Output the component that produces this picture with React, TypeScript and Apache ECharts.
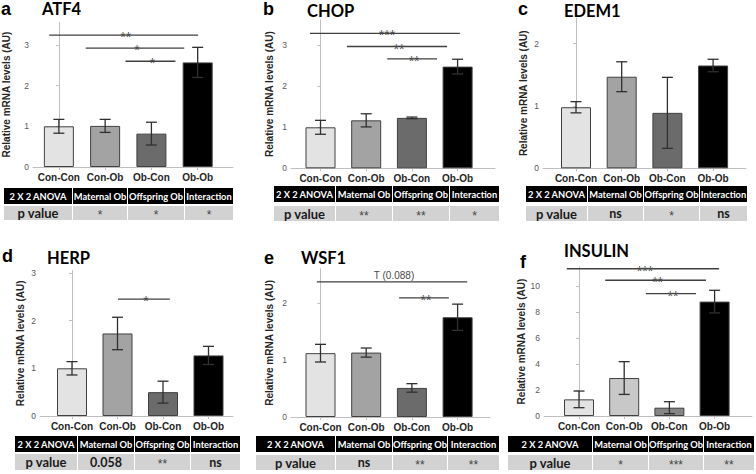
import React, { useEffect, useRef } from 'react';
import * as echarts from 'echarts';

// ---------- data ----------
const categories = ['Con-Con', 'Con-Ob', 'Ob-Con', 'Ob-Ob'];
const anovaHeaders = ['2 X 2 ANOVA', 'Maternal Ob', 'Offspring Ob', 'Interaction'];
const pRowLabel = 'p value';

const atf4Mean = [1.0, 1.01, 0.82, 2.57];
const atf4Err = [0.17, 0.16, 0.28, 0.37];
const atf4P = ['*', '*', '*'];
const atf4Sig: [number, number, number, string][] = [[-0.21, 3.01, 3.24, '**'], [0.58, 2.71, 2.92, '*'], [1.44, 2.52, 2.6, '*']];

const chopMean = [1.0, 1.17, 1.23, 2.48];
const chopErr = [0.17, 0.16, 0.02, 0.18];
const chopP = ['**', '**', '*'];
const chopSig: [number, number, number, string][] = [[-0.23, 3.05, 3.29, '***'], [0.58, 2.77, 2.97, '**'], [1.46, 2.55, 2.67, '**']];

const edem1Mean = [0.98, 1.47, 0.89, 1.65];
const edem1Err = [0.09, 0.24, 0.57, 0.1];
const edem1P = ['ns', '*', 'ns'];
const edem1Sig: [number, number, number, string][] = [];

const herpMean = [1.0, 1.73, 0.5, 1.27];
const herpErr = [0.14, 0.34, 0.23, 0.19];
const herpP = ['0.058', '**', 'ns'];
const herpSig: [number, number, number, string][] = [[1.01, 2.15, 2.45, '*']];

const wsf1Mean = [1.12, 1.13, 0.51, 1.75];
const wsf1Err = [0.155, 0.08, 0.075, 0.23];
const wsf1P = ['ns', '**', '**'];
const wsf1Sig: [number, number, number, string][] = [[-0.08, 3.21, 2.37, 'T (0.088)'], [1.72, 2.81, 2.09, '**']];

const insulinMean = [1.28, 2.92, 0.64, 8.8];
const insulinErr = [0.64, 1.26, 0.46, 0.87];
const insulinP = ['*', '***', '**'];
const insulinSig: [number, number, number, string][] = [[-0.27, 3.1, 11.33, '***'], [0.58, 2.81, 10.44, '**'], [1.48, 2.59, 9.41, '**']];

const ticks3 = [0, 1, 2, 3];
const ticks2 = [0, 1, 2];
const ticksIns = [0, 2, 4, 6, 8, 10];

// ---------- styles / layout ----------
const greyBars = ['#e3e3e3', '#a3a3a3', '#6b6b6b', '#000000'];
const lightBars = ['#e3e3e3', '#c8c8c8', '#858585', '#000000'];
const AX = '#bfbfbf';
const ARIAL = 'Liberation Sans';
const CAL = 'Lato';

type Panel = {
  letter: string; title: string; mean: number[]; err: number[]; p: string[];
  sig: [number, number, number, string][]; ticks: number[]; colors: string[];
  yAxisX: number; axisEndX: number; xAxisY: number; unit: number; yMax: number;
  c0: number; sp: number; nameGap: number;
  letterPos: [number, number]; titlePos: [number, number];
  rows: [number, number][]; cols: [number, number][];
};

const panels: Panel[] = [
  {
    letter: 'a', title: 'ATF4', mean: atf4Mean, err: atf4Err, p: atf4P, sig: atf4Sig, ticks: ticks3, colors: greyBars,
    yAxisX: 32, axisEndX: 233, xAxisY: 167, unit: 40.7, yMax: 3.56, c0: 58, sp: 46.5, nameGap: 22,
    letterPos: [1, 9], titlePos: [42, 9],
    rows: [[188, 16], [206, 14]], cols: [[4, 72], [73, 127], [128, 184], [185, 233]],
  },
  {
    letter: 'b', title: 'CHOP', mean: chopMean, err: chopErr, p: chopP, sig: chopSig, ticks: ticks3, colors: greyBars,
    yAxisX: 291, axisEndX: 495, xAxisY: 168.3, unit: 41, yMax: 3.62, c0: 320.5, sp: 45.7, nameGap: 17,
    letterPos: [263, 9], titlePos: [307, 11],
    rows: [[186, 16], [206, 15]], cols: [[274, 335], [336, 392], [393, 449], [450, 499]],
  },
  {
    letter: 'c', title: 'EDEM1', mean: edem1Mean, err: edem1Err, p: edem1P, sig: edem1Sig, ticks: ticks2, colors: greyBars,
    yAxisX: 543, axisEndX: 746, xAxisY: 168.3, unit: 62.3, yMax: 2.41, c0: 576, sp: 45.7, nameGap: 15,
    letterPos: [518, 9], titlePos: [564, 11],
    rows: [[186, 16], [206, 15]], cols: [[526, 587], [588, 643], [644, 699], [700, 747]],
  },
  {
    letter: 'd', title: 'HERP', mean: herpMean, err: herpErr, p: herpP, sig: herpSig, ticks: ticks3, colors: greyBars,
    yAxisX: 40, axisEndX: 233, xAxisY: 416, unit: 47.7, yMax: 3.05, c0: 72, sp: 45.5, nameGap: 15,
    letterPos: [2, 256], titlePos: [47, 258],
    rows: [[436, 16], [454, 16]], cols: [[15, 77], [78, 134], [135, 190], [191, 240]],
  },
  {
    letter: 'e', title: 'WSF1', mean: wsf1Mean, err: wsf1Err, p: wsf1P, sig: wsf1Sig, ticks: ticks2, colors: greyBars,
    yAxisX: 291, axisEndX: 490, xAxisY: 417, unit: 57, yMax: 2.6, c0: 320.5, sp: 45.7, nameGap: 17,
    letterPos: [264, 258], titlePos: [301, 258],
    rows: [[436, 16], [455, 15]], cols: [[256, 335], [336, 392], [393, 447], [448, 499]],
  },
  {
    letter: 'f', title: 'INSULIN', mean: insulinMean, err: insulinErr, p: insulinP, sig: insulinSig, ticks: ticksIns, colors: lightBars,
    yAxisX: 544, axisEndX: 752, xAxisY: 416, unit: 13, yMax: 11.46, c0: 579, sp: 45.2, nameGap: 16,
    letterPos: [520, 262], titlePos: [564, 251],
    rows: [[436, 16], [455, 15]], cols: [[508, 592], [593, 648], [649, 703], [704, 754]],
  },
];

function buildOption() {
  const grid: any[] = [];
  const xAxis: any[] = [];
  const yAxis: any[] = [];
  const series: any[] = [];
  const graphic: any[] = [];

  panels.forEach((pn, i) => {
    const h = pn.yMax * pn.unit;
    grid.push({ left: pn.yAxisX, top: pn.xAxisY - h, width: pn.axisEndX - pn.yAxisX, height: h, containLabel: false });
    const xMin = (pn.yAxisX - pn.c0) / pn.sp;
    const xMax = (pn.axisEndX - pn.c0) / pn.sp;
    const catIdx = categories.map((_, k) => k);
    xAxis.push({
      gridIndex: i, type: 'value', min: xMin, max: xMax,
      axisLine: { show: true, lineStyle: { color: AX, width: 1 } },
      axisTick: { show: true, customValues: catIdx, length: 3, lineStyle: { color: AX } },
      axisLabel: {
        customValues: catIdx, formatter: (v: number) => categories[Math.round(v)] ?? '',
        fontFamily: ARIAL, fontWeight: 'bold', fontSize: 10, color: '#262626', margin: 5,
      },
      splitLine: { show: false },
    });
    yAxis.push({
      gridIndex: i, type: 'value', min: 0, max: pn.yMax,
      name: 'Relative mRNA levels (AU)', nameLocation: 'middle', nameGap: pn.nameGap,
      nameTextStyle: { fontFamily: ARIAL, fontWeight: 'bold', fontSize: 10, color: '#262626' },
      axisLine: { show: true, lineStyle: { color: AX, width: 1 } },
      axisTick: { show: true, customValues: pn.ticks, length: 3, lineStyle: { color: AX } },
      axisLabel: { customValues: pn.ticks, fontFamily: ARIAL, fontSize: 8.5, color: '#595959', margin: 4 },
      splitLine: { show: false },
    });
    series.push({
      type: 'bar', xAxisIndex: i, yAxisIndex: i, barWidth: 30,
      data: pn.mean.map((m, k) => ({ value: [k, m], itemStyle: { color: pn.colors[k], borderColor: '#404040', borderWidth: 1 } })),
      z: 2,
    });
    series.push({
      type: 'custom', xAxisIndex: i, yAxisIndex: i, z: 5,
      data: pn.mean.map((m, k) => [k, m, pn.err[k]]),
      encode: { x: 0, y: 1 },
      renderItem: (params: any, api: any) => {
        const x = api.value(0), m = api.value(1), e = api.value(2);
        const t = api.coord([x, m + e]);
        const b = api.coord([x, m - e]);
        const hw = 5.5;
        const st = { stroke: '#303030', lineWidth: 1.3 };
        return {
          type: 'group', children: [
            { type: 'line', shape: { x1: t[0], y1: t[1], x2: b[0], y2: b[1] }, style: st },
            { type: 'line', shape: { x1: t[0] - hw, y1: t[1], x2: t[0] + hw, y2: t[1] }, style: st },
            { type: 'line', shape: { x1: b[0] - hw, y1: b[1], x2: b[0] + hw, y2: b[1] }, style: st },
          ],
        };
      },
    });
    if (pn.sig.length) {
      const sigArr = pn.sig;
      series.push({
        type: 'custom', xAxisIndex: i, yAxisIndex: i, z: 6, clip: false,
        data: sigArr.map((s) => [s[0], s[1], s[2]]),
        encode: { x: [0, 1], y: 2 },
        renderItem: (params: any, api: any) => {
          const a = api.coord([api.value(0), api.value(2)]);
          const b = api.coord([api.value(1), api.value(2)]);
          const label = sigArr[params.dataIndex][3];
          const isStar = label.indexOf('*') === 0;
          return {
            type: 'group', children: [
              { type: 'line', shape: { x1: a[0], y1: a[1], x2: b[0], y2: b[1] }, style: { stroke: '#404040', lineWidth: 1.4 } },
              {
                type: 'text', x: (a[0] + b[0]) / 2 + 2, y: isStar ? a[1] + 2 : a[1] - 1,
                style: {
                  text: label, align: 'center', verticalAlign: isStar ? 'middle' : 'bottom',
                  fontFamily: ARIAL, fontSize: isStar ? 14 : 10, fill: '#4a4a4a',
                },
              },
            ],
          };
        },
      });
    }

    // panel letter & title
    graphic.push({ type: 'text', x: pn.letterPos[0], y: pn.letterPos[1], style: { text: pn.letter, fontFamily: ARIAL, fontWeight: 'bold', fontSize: 18, fill: '#000', verticalAlign: 'middle' } });
    graphic.push({ type: 'text', x: pn.titlePos[0], y: pn.titlePos[1], style: { text: pn.title, fontFamily: CAL, fontWeight: 'bold', fontSize: 16.5, fill: '#000', verticalAlign: 'middle' } });

    // ANOVA table
    const [r1, r2] = pn.rows;
    pn.cols.forEach((c, k) => {
      graphic.push({ type: 'rect', shape: { x: c[0], y: r1[0], width: c[1] - c[0], height: r1[1] }, style: { fill: '#000' } });
      graphic.push({ type: 'text', x: (c[0] + c[1]) / 2, y: r1[0] + r1[1] / 2, style: { text: anovaHeaders[k], align: 'center', verticalAlign: 'middle', fontFamily: CAL, fontWeight: 'bold', fontSize: 9.3, fill: '#fff' } });
      graphic.push({ type: 'rect', shape: { x: c[0], y: r2[0], width: c[1] - c[0], height: r2[1] }, style: { fill: '#d2d2d2' } });
      const txt = k === 0 ? pRowLabel : pn.p[k - 1];
      const star = txt.indexOf('*') === 0;
      graphic.push({
        type: 'text', x: (c[0] + c[1]) / 2, y: r2[0] + r2[1] / 2 + (star ? 2 : 0),
        style: {
          text: txt, align: 'center', verticalAlign: 'middle', fontFamily: star ? ARIAL : CAL,
          fontWeight: star ? 'normal' : 'bold', fontSize: k === 0 ? 13 : star ? 12 : 12.5, fill: star ? '#444' : '#1a1a1a',
        },
      });
    });
  });

  return { animation: false, backgroundColor: '#fff', grid, xAxis, yAxis, series, graphic };
}

export default function App() {
  const ref = useRef<HTMLDivElement>(null);
  useEffect(() => {
    document.body.style.margin = '0';
    if (!ref.current) return;
    const chart = echarts.init(ref.current, undefined, { renderer: 'svg' });
    chart.setOption(buildOption() as any);
    return () => chart.dispose();
  }, []);
  return <div ref={ref} style={{ width: 756, height: 474, position: 'absolute', left: 0, top: 0 }} />;
}
